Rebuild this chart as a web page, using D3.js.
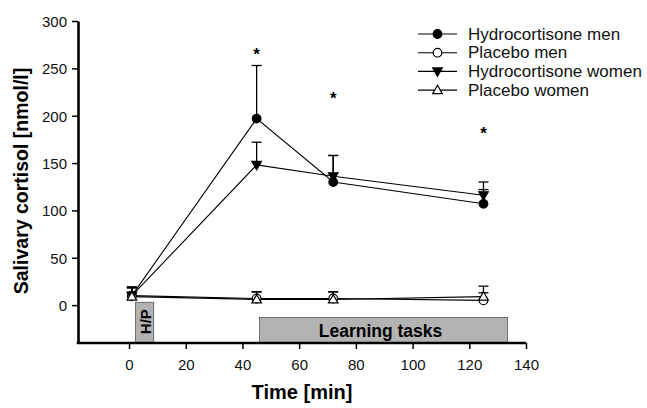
<!DOCTYPE html>
<html>
<head>
<meta charset="utf-8">
<script src="https://cdn.jsdelivr.net/npm/d3@7"></script>
<style>
  body { margin: 0; background: #fff; }
  svg { display: block; font-family: "Liberation Sans", Arial, sans-serif; }
</style>
</head>
<body>
<div id="chart"></div>
<script>
// time points (min)
var times = [1, 45, 72, 125];

// series values and upper error (SEM)
var seriesNames = ["Hydrocortisone men", "Placebo men", "Hydrocortisone women", "Placebo women"];
var hcMen = [10, 197, 130, 107];
var hcMenErr = [9, 56, 28, 15];
var plMen = [10, 7, 7, 5];
var plMenErr = [9, 7, 7, 8];
var hcWomen = [10, 148, 136, 116];
var hcWomenErr = [8, 24, 22, 14];
var plWomen = [9, 6, 6, 9];
var plWomenErr = [10, 8, 8, 11];

// significance markers
var starTimes = [45, 72, 125];
var starValues = [270, 224, 187];

// shaded periods
var periods = [
  { label: "H/P", from: 2.3, to: 8.7, top: 3, rotate: true },
  { label: "Learning tasks", from: 46, to: 133.5, top: -13, rotate: false }
];

var xTicks = [0, 20, 40, 60, 80, 100, 120, 140];
var yTicks = [0, 50, 100, 150, 200, 250, 300];

var width = 647, height = 408;
var margin = { top: 21, right: 121, bottom: 65, left: 78 };

var svg = d3.select("#chart").append("svg")
  .attr("width", width)
  .attr("height", height);

var x = d3.scaleLinear().domain([-18, 140]).range([margin.left, width - margin.right]);
var y = d3.scaleLinear().domain([-40, 300]).range([height - margin.bottom, margin.top]);

// periods (drawn under the axes)
periods.forEach(function (p) {
  svg.append("rect")
    .attr("x", x(p.from))
    .attr("y", y(p.top))
    .attr("width", x(p.to) - x(p.from))
    .attr("height", y(-40) - y(p.top))
    .attr("fill", "#b3b3b3")
    .attr("stroke", "#555")
    .attr("stroke-width", 0.8);
  var cx = (x(p.from) + x(p.to)) / 2, cy = (y(p.top) + y(-40)) / 2;
  var t = svg.append("text")
    .attr("font-weight", "bold")
    .attr("font-size", p.rotate ? 15 : 17.5)
    .attr("text-anchor", "middle")
    .attr("dominant-baseline", "central")
    .text(p.label);
  if (p.rotate) {
    t.attr("transform", "translate(" + (cx + 1) + "," + (cy - 1) + ") rotate(-90)");
  } else {
    t.attr("x", cx - 3).attr("y", cy + 1);
  }
});

// axes
var xAxis = svg.append("g")
  .attr("transform", "translate(0," + y(-40) + ")")
  .call(d3.axisBottom(x).tickValues(xTicks).tickSize(6).tickSizeOuter(0).tickPadding(10));
var yAxis = svg.append("g")
  .attr("transform", "translate(" + x(-18) + ",0)")
  .call(d3.axisLeft(y).tickValues(yTicks).tickSize(6).tickSizeOuter(0).tickPadding(5));

[xAxis, yAxis].forEach(function (a) {
  a.select(".domain").attr("stroke", "#000").attr("stroke-width", 2.6);
  a.selectAll(".tick line").attr("stroke", "#000").attr("stroke-width", 1.5);
  a.selectAll(".tick text").attr("font-size", 15).attr("fill", "#111")
    .attr("font-family", "Liberation Sans, Arial, sans-serif");
});
yAxis.selectAll(".tick text").attr("dy", "0.36em");
xAxis.select(".domain").attr("d", "M" + (x(-18) - 1.3) + ",0H" + x(140));

// axis titles
svg.append("text")
  .attr("x", 302)
  .attr("y", 399)
  .attr("text-anchor", "middle")
  .attr("font-weight", "bold")
  .attr("font-size", 20)
  .text("Time [min]");
svg.append("text")
  .attr("transform", "translate(28," + 181 + ") rotate(-90)")
  .attr("text-anchor", "middle")
  .attr("font-weight", "bold")
  .attr("font-size", 19.5)
  .text("Salivary cortisol [nmol/l]");

var series = [
  { name: seriesNames[0], vals: hcMen, err: hcMenErr, shape: "circle", fill: "#000" },
  { name: seriesNames[1], vals: plMen, err: plMenErr, shape: "circle", fill: "#fff" },
  { name: seriesNames[2], vals: hcWomen, err: hcWomenErr, shape: "tri-down", fill: "#000" },
  { name: seriesNames[3], vals: plWomen, err: plWomenErr, shape: "tri-up", fill: "#fff" }
];

function markerPath(shape) {
  if (shape === "tri-down") return "M-4.8,-3.5L4.8,-3.5L0,4.8Z";
  if (shape === "tri-up") return "M-4.8,3.5L4.8,3.5L0,-4.8Z";
  return null;
}

function drawMarker(g, shape, fill, px, py) {
  if (shape === "circle") {
    g.append("circle").attr("cx", px).attr("cy", py).attr("r", 4.3)
      .attr("fill", fill).attr("stroke", "#000").attr("stroke-width", 1.2);
  } else {
    g.append("path").attr("d", markerPath(shape))
      .attr("transform", "translate(" + px + "," + py + ")")
      .attr("fill", fill).attr("stroke", "#000").attr("stroke-width", 1.2);
  }
}

var line = d3.line()
  .x(function (d) { return x(d[0]); })
  .y(function (d) { return y(d[1]); });

var plot = svg.append("g");

// error bars (upper only)
series.forEach(function (s) {
  s.vals.forEach(function (v, i) {
    var px = x(times[i]);
    plot.append("line")
      .attr("x1", px).attr("x2", px)
      .attr("y1", y(v)).attr("y2", y(v + s.err[i]))
      .attr("stroke", "#000").attr("stroke-width", 1.3);
    plot.append("line")
      .attr("x1", px - 5).attr("x2", px + 5)
      .attr("y1", y(v + s.err[i])).attr("y2", y(v + s.err[i]))
      .attr("stroke", "#000").attr("stroke-width", 1.3);
  });
});

// lines
series.forEach(function (s) {
  plot.append("path")
    .datum(times.map(function (t, i) { return [t, s.vals[i]]; }))
    .attr("d", line)
    .attr("fill", "none")
    .attr("stroke", "#000")
    .attr("stroke-width", 1.1);
});

// markers
series.forEach(function (s) {
  s.vals.forEach(function (v, i) {
    drawMarker(plot, s.shape, s.fill, x(times[i]), y(v));
  });
});

// significance stars
starTimes.forEach(function (t, i) {
  svg.append("text")
    .attr("x", x(t))
    .attr("y", y(starValues[i]))
    .attr("text-anchor", "middle")
    .attr("dominant-baseline", "central")
    .attr("font-size", 17)
    .attr("font-weight", "bold")
    .attr("dy", "0.3em")
    .text("*");
});

// legend
var legend = svg.append("g");
series.forEach(function (s, i) {
  var ly = 34 + i * 18.7;
  legend.append("line")
    .attr("x1", 418).attr("x2", 457)
    .attr("y1", ly).attr("y2", ly)
    .attr("stroke", "#000").attr("stroke-width", 1.1);
  drawMarker(legend, s.shape, s.fill, 437.5, ly);
  legend.append("text")
    .attr("x", 468)
    .attr("y", ly)
    .attr("dominant-baseline", "central")
    .attr("font-size", 17)
    .attr("fill", "#111")
    .text(s.name);
});
</script>
</body>
</html>
